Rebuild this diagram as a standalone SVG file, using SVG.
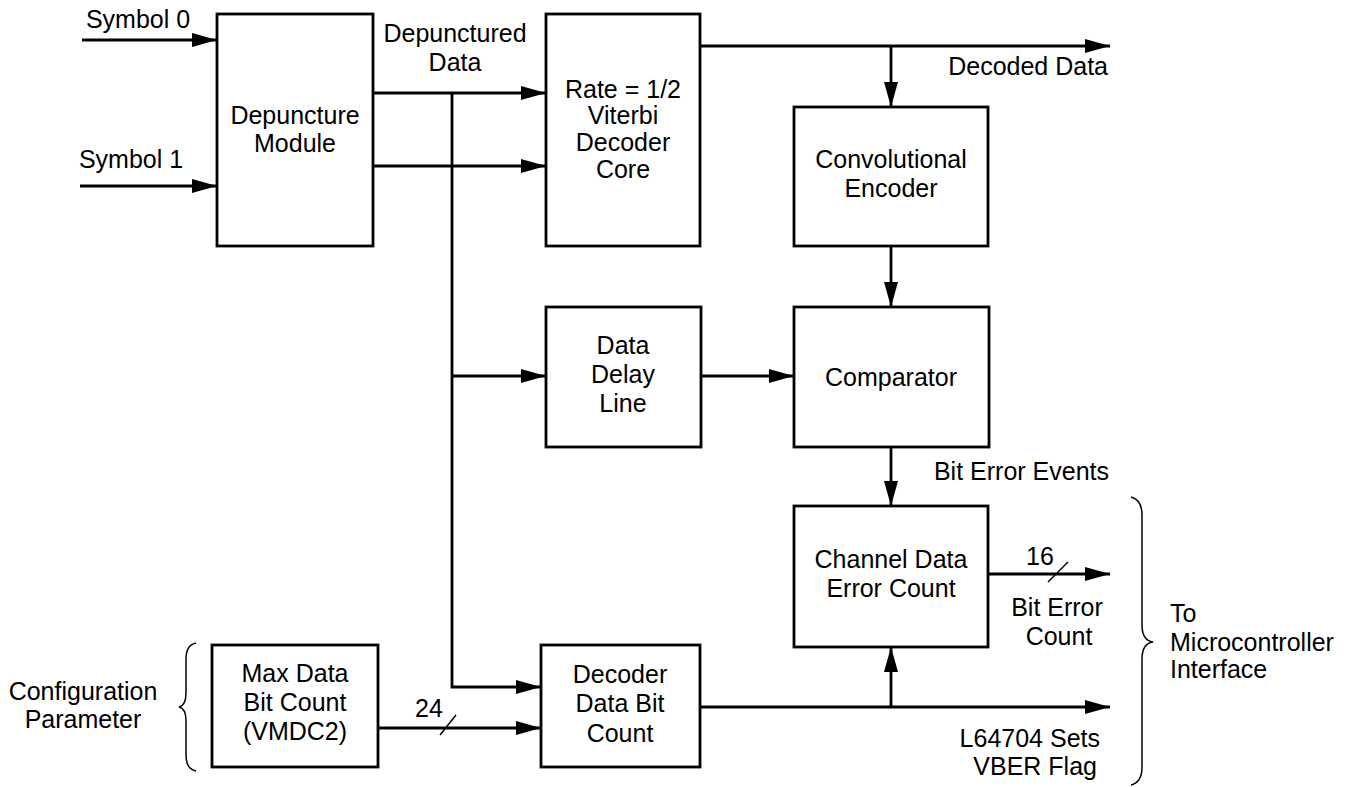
<svg xmlns="http://www.w3.org/2000/svg" width="1354" height="787" viewBox="0 0 1354 787">
<defs>
<marker id="arr" markerUnits="userSpaceOnUse" markerWidth="26" markerHeight="16" refX="25" refY="7" orient="auto">
<path d="M0,0 L25,7 L0,14 z" fill="#000"/>
</marker>
</defs>
<style>
.box{fill:#fff;stroke:#000;stroke-width:2.8}
.ln{fill:none;stroke:#000;stroke-width:2.8}
.thin{fill:none;stroke:#000;stroke-width:1.5}
text{font-family:"Liberation Sans",Arial,sans-serif;font-size:25px;fill:#000}
.c{text-anchor:middle}
.e{text-anchor:end}
</style>
<rect width="1354" height="787" fill="#fff"/>
<g id="connectors">
<path class="ln" d="M82,40 H217" marker-end="url(#arr)"/>
<path class="ln" d="M80,186 H217" marker-end="url(#arr)"/>
<path class="ln" d="M373,93 H546" marker-end="url(#arr)"/>
<path class="ln" d="M373,166 H546" marker-end="url(#arr)"/>
<path class="ln" d="M452,93 V687 H541" marker-end="url(#arr)"/>
<path class="ln" d="M452,376 H546" marker-end="url(#arr)"/>
<path class="ln" d="M701,376 H794" marker-end="url(#arr)"/>
<path class="ln" d="M700,46 H1110" marker-end="url(#arr)"/>
<path class="ln" d="M891,46 V107" marker-end="url(#arr)"/>
<path class="ln" d="M891,246 V307" marker-end="url(#arr)"/>
<path class="ln" d="M891,447 V506" marker-end="url(#arr)"/>
<path class="ln" d="M988,574 H1110" marker-end="url(#arr)"/>
<path class="thin" d="M1048,582 L1068,562"/>
<path class="ln" d="M700,707 H1110" marker-end="url(#arr)"/>
<path class="ln" d="M891,707 V647" marker-end="url(#arr)"/>
<path class="ln" d="M378,728 H541" marker-end="url(#arr)"/>
<path class="thin" d="M440,735 L456,715"/>
<text x="138" y="28" class="c">Symbol 0</text>
<text x="131" y="168" class="c">Symbol 1</text>
<text x="455" y="42" class="c">Depunctured</text>
<text x="455" y="71" class="c">Data</text>
<text x="1108" y="75" class="e">Decoded Data</text>
<text x="1109" y="480" class="e">Bit Error Events</text>
<text x="1026" y="565">16</text>
<text x="1057" y="616" class="c">Bit Error</text>
<text x="1059" y="645" class="c">Count</text>
<text x="1100" y="747" class="e">L64704 Sets</text>
<text x="1097" y="775" class="e">VBER Flag</text>
<text x="415" y="717">24</text>
</g>
<g id="depuncture">
<rect class="box" x="217" y="14" width="156" height="232"/>
<text x="295" y="124" class="c">Depuncture</text>
<text x="295" y="152" class="c">Module</text>
</g>
<g id="viterbi">
<rect class="box" x="546" y="14" width="154" height="232"/>
<text x="623" y="98" class="c">Rate = 1/2</text>
<text x="623" y="124" class="c">Viterbi</text>
<text x="623" y="151" class="c">Decoder</text>
<text x="623" y="178" class="c">Core</text>
</g>
<g id="conv-encoder">
<rect class="box" x="794" y="107" width="194" height="139"/>
<text x="891" y="168" class="c">Convolutional</text>
<text x="891" y="197" class="c">Encoder</text>
</g>
<g id="delay-line">
<rect class="box" x="546" y="307" width="155" height="140"/>
<text x="623" y="354" class="c">Data</text>
<text x="623" y="383" class="c">Delay</text>
<text x="623" y="412" class="c">Line</text>
</g>
<g id="comparator">
<rect class="box" x="794" y="307" width="195" height="140"/>
<text x="891" y="386" class="c">Comparator</text>
</g>
<g id="channel-error-count">
<rect class="box" x="794" y="506" width="194" height="141"/>
<text x="891" y="568" class="c">Channel Data</text>
<text x="891" y="597" class="c">Error Count</text>
</g>
<g id="max-data">
<rect class="box" x="212" y="645" width="166" height="122"/>
<text x="295" y="682" class="c">Max Data</text>
<text x="295" y="711" class="c">Bit Count</text>
<text x="295" y="740" class="c">(VMDC2)</text>
</g>
<g id="decoder-bit-count">
<rect class="box" x="541" y="645" width="159" height="122"/>
<text x="620" y="683" class="c">Decoder</text>
<text x="620" y="712" class="c">Data Bit</text>
<text x="620" y="742" class="c">Count</text>
</g>
<g id="config-brace">
<path class="thin" stroke-width="2" d="M196,643 C188,645 186,651 186,660 V693 C186,702 184,706 179,707 C184,708 186,712 186,721 V754 C186,763 188,769 196,771"/>
<text x="83" y="700" class="c">Configuration</text>
<text x="83" y="728" class="c">Parameter</text>
</g>
<g id="micro-brace">
<path class="thin" stroke-width="2" d="M1131,497 C1139,499 1142,505 1142,515 V625 C1142,635 1146,641 1153,642 C1146,643 1142,649 1142,659 V767 C1142,777 1139,783 1131,785"/>
<text x="1170" y="622">To</text>
<text x="1170" y="651">Microcontroller</text>
<text x="1170" y="678">Interface</text>
</g>
</svg>
